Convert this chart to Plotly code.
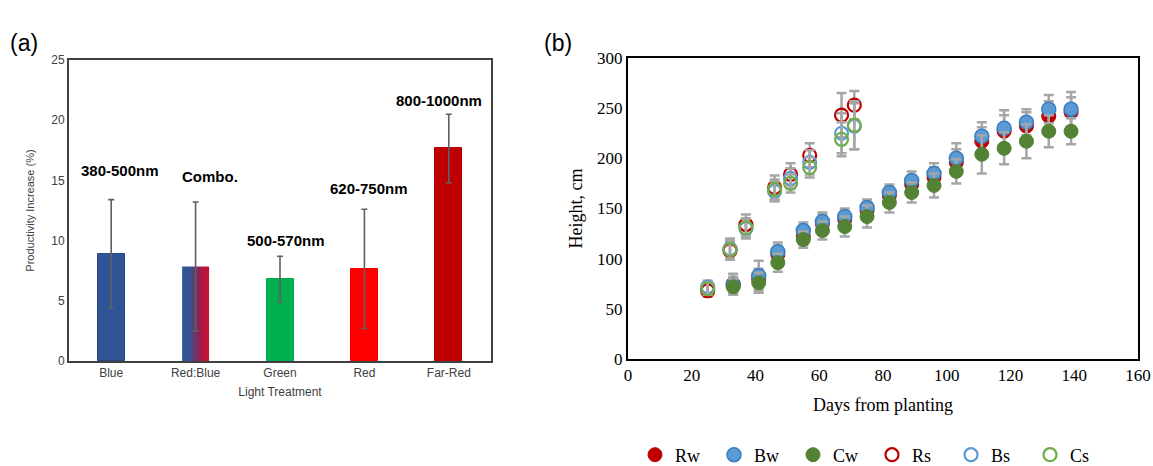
import plotly.graph_objects as go

# ---------------- Panel (a) data ----------------
treatments = ["Blue", "Red:Blue", "Green", "Red", "Far-Red"]
productivity = [8.9, 7.85, 6.8, 7.65, 17.65]
productivity_err = [4.5, 5.35, 1.9, 4.95, 2.85]
band_labels = ["380-500nm", "Combo.", "500-570nm", "620-750nm", "800-1000nm"]

# ---------------- Panel (b) data ----------------
days_w = [33, 41, 47, 55, 61, 68, 75, 82, 89, 96, 103, 111, 118, 125, 132, 139]
Rw = [75, 80, 104, 122, 135, 139, 148, 163, 174, 181, 196, 217, 227, 232, 242, 246]
Bw = [74, 83, 107, 128, 137, 142, 151, 166, 178, 185, 200, 222, 230, 236, 249, 249]
Cw = [72, 76, 96, 119, 128, 132, 142, 156, 166, 173, 187, 204, 210, 217, 227, 227]
Rw_err = [10, 10, 9, 8, 9, 8, 8, 8, 9, 10, 13, 14, 16, 14, 15, 15]
Bw_err = [8, 15, 9, 8, 9, 8, 8, 8, 9, 10, 15, 14, 18, 13, 14, 17]
Cw_err = [8, 10, 9, 8, 9, 10, 11, 10, 10, 12, 12, 19, 16, 17, 16, 13]

days_s = [25, 32, 37, 46, 51, 57, 67, 71]
Rs = [68, 108, 134, 171, 184, 203, 243, 253]
Bs = [72, 110, 130, 167, 180, 196, 225, 232]
Cs = [70, 109, 131, 169, 175, 191, 219, 233]
Rs_err = [6, 9, 10, 12, 11, 12, 22, 14]
Bs_err = [6, 10, 10, 10, 10, 12, 20, 23]
Cs_err = [6, 9, 9, 10, 9, 10, 17, 24]

# ---------------- styles ----------------
bar_colors = ["#2f5597", "rgba(0,0,0,0)", "#00b050", "#ff0000", "#c00000"]
bar_line_colors = ["#27477f", "rgba(0,0,0,0)", "#00a84a", "#f00000", "#b80000"]
BAR_W = 0.32
label_dx = [0.1, 0.17, 0.07, 0.05, -0.12]
label_y = [15.85, 15.3, 10.05, 14.3, 21.6]

SANS = "Liberation Sans, Arial, sans-serif"
SERIF = "Liberation Serif, Times New Roman, serif"

W, H = 1153, 466


def fx(px):
    return px / W


def fy(py):
    return (H - py) / H


fig = go.Figure()
idx = list(range(len(treatments)))

# bars
fig.add_trace(go.Bar(
    x=idx, y=productivity, width=BAR_W,
    marker=dict(color=bar_colors, line=dict(color=bar_line_colors, width=1)),
    xaxis="x", yaxis="y", showlegend=False, hoverinfo="skip"))

# gradient bar (Red:Blue) drawn as filled polygon with horizontal gradient
gi = treatments.index("Red:Blue")
gx = [gi - BAR_W / 2, gi + BAR_W / 2, gi + BAR_W / 2, gi - BAR_W / 2, gi - BAR_W / 2]
gy = [0, 0, productivity[gi], productivity[gi], 0]
fig.add_trace(go.Scatter(
    x=gx, y=gy, mode="lines", fill="toself", line=dict(width=0),
    fillgradient=dict(type="horizontal",
                      colorscale=[[0, "#2f5597"], [0.3, "#35528f"], [0.65, "#9a1e4c"], [1, "#d0102a"]]),
    xaxis="x", yaxis="y", showlegend=False, hoverinfo="skip"))

# error bars
fig.add_trace(go.Scatter(
    x=idx, y=productivity, mode="markers",
    marker=dict(size=1, color="rgba(0,0,0,0)"),
    error_y=dict(type="data", array=productivity_err, visible=True,
                 color="#606060", thickness=1.6, width=3),
    xaxis="x", yaxis="y", showlegend=False, hoverinfo="skip"))

for i, lab in enumerate(band_labels):
    fig.add_annotation(x=i + label_dx[i], y=label_y[i], xref="x", yref="y",
                       text="<b>%s</b>" % lab, showarrow=False,
                       font=dict(family=SANS, size=15, color="#000000"))

# ---------------- panel (b) traces ----------------
err_style = dict(type="data", visible=True, color="#a6a6a6", thickness=2.5, width=5)


def add_series(name, xs, ys, errs, symbol, color, line_color, line_w, size):
    fig.add_trace(go.Scatter(
        x=xs, y=ys, name=name, mode="markers",
        marker=dict(symbol=symbol, size=size, color=color,
                    line=dict(color=line_color, width=line_w)),
        error_y=dict(array=errs, **err_style),
        xaxis="x2", yaxis="y2", hoverinfo="skip"))


add_series("Rw", days_w, Rw, Rw_err, "circle", "#c00000", "#c00000", 1, 14)
add_series("Bw", days_w, Bw, Bw_err, "circle", "#5b9bd5", "#3a7cc0", 1.5, 14)
add_series("Cw", days_w, Cw, Cw_err, "circle", "#548235", "#548235", 1, 14)
add_series("Rs", days_s, Rs, Rs_err, "circle-open", "#c00000", "#c00000", 2.2, 13)
add_series("Bs", days_s, Bs, Bs_err, "circle-open", "#5b9bd5", "#5b9bd5", 2.2, 13)
add_series("Cs", days_s, Cs, Cs_err, "circle-open", "#70ad47", "#70ad47", 2.2, 13)

fig.update_layout(
    width=W, height=H,
    margin=dict(l=0, r=0, t=0, b=0, autoexpand=False),
    paper_bgcolor="white", plot_bgcolor="white",
    bargap=0,
    xaxis=dict(domain=[fx(69), fx(491)], range=[-0.5, 4.5],
               tickmode="array", tickvals=idx, ticktext=treatments,
               showline=True, linecolor="#404040", linewidth=1.8, mirror=True,
               showgrid=False, zeroline=False, ticks="", automargin=False,
               tickfont=dict(family=SANS, size=12, color="#404040"),
               title=dict(text="Light Treatment", standoff=8,
                          font=dict(family=SANS, size=12, color="#404040"))),
    yaxis=dict(domain=[fy(361), fy(60)], range=[0, 25], dtick=5,
               showline=True, linecolor="#404040", linewidth=1.8, mirror=True,
               showgrid=False, zeroline=False, ticks="", automargin=False,
               tickfont=dict(family=SANS, size=12, color="#404040"),
               title=dict(text="Productivity Increase (%)", standoff=14,
                          font=dict(family=SANS, size=11, color="#404040"))),
    xaxis2=dict(domain=[fx(628), fx(1138)], range=[0, 160], dtick=20, anchor="y2",
                showline=True, linecolor="#000000", linewidth=2, mirror=True,
                showgrid=False, zeroline=False, ticks="", automargin=False,
                tickfont=dict(family=SERIF, size=17, color="#000000"),
                title=dict(text="Days from planting", standoff=14,
                           font=dict(family=SERIF, size=18, color="#000000"))),
    yaxis2=dict(domain=[fy(359), fy(58)], range=[0, 300], dtick=50, anchor="x2",
                showline=True, linecolor="#000000", linewidth=2, mirror=True,
                showgrid=False, zeroline=False, ticks="", automargin=False,
                tickfont=dict(family=SERIF, size=17, color="#000000"),
                title=dict(text="Height, cm", standoff=10,
                           font=dict(family=SERIF, size=18, color="#000000"))),
    legend=dict(orientation="h", x=fx(872), y=fy(455), xanchor="center", yanchor="middle",
                font=dict(family=SERIF, size=18, color="#000000"),
                itemwidth=30, tracegroupgap=0, bgcolor="rgba(0,0,0,0)",
                entrywidth=34, entrywidthmode="pixels"),
)

fig.add_annotation(x=fx(8), y=fy(28), xref="paper", yref="paper", xanchor="left",
                   text="(a)", showarrow=False, font=dict(family=SANS, size=23, color="#000"))
fig.add_annotation(x=fx(542), y=fy(28), xref="paper", yref="paper", xanchor="left",
                   text="(b)", showarrow=False, font=dict(family=SANS, size=23, color="#000"))

fig.write_html("out.html",
               config={"displayModeBar": False},
               post_script="document.body.style.margin='0px';document.body.style.overflow='hidden';")
